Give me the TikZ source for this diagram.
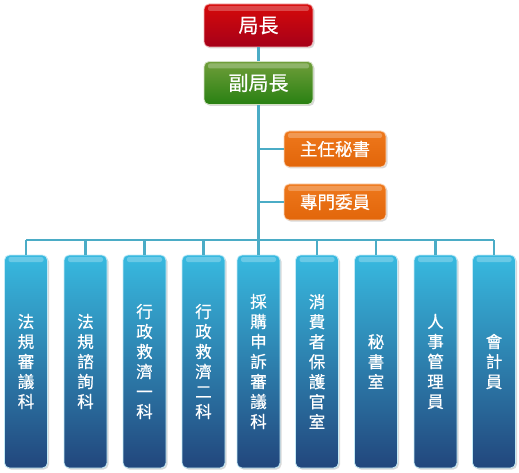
\documentclass[tikz,border=0pt]{standalone}
\usepackage{fontspec}
\newfontfamily\cjk[FakeBold=0.6]{Noto Sans CJK TC}
\usetikzlibrary{shadows}
\definecolor{redtop}{RGB}{214,10,10}
\definecolor{redbot}{RGB}{165,0,25}
\definecolor{grntop}{RGB}{112,158,58}
\definecolor{grnbot}{RGB}{40,128,18}
\definecolor{orgtop}{RGB}{238,120,28}
\definecolor{orgbot}{RGB}{226,102,10}
\definecolor{blutop}{RGB}{56,186,224}
\definecolor{blubot}{RGB}{34,70,124}
\definecolor{linec}{RGB}{75,172,198}
\begin{document}
\begin{tikzpicture}[x=1pt,y=-1pt,
  gloss/.style={rounded corners=5pt, draw=white!70!#1, line width=0.8pt,
    drop shadow={opacity=0.3, shadow xshift=1.5pt, shadow yshift=-1.5pt},
    text=white, inner sep=0pt,
    path picture={\fill[white,opacity=0.25,rounded corners=2pt]
      ([xshift=4pt,yshift=-2pt]path picture bounding box.north west)
      rectangle ([xshift=-4pt,yshift=-7pt]path picture bounding box.north east);}},
  topbox/.style={gloss=#1, minimum width=109pt, minimum height=43pt,
    font=\cjk\fontsize{20}{24}\selectfont},
  sidebox/.style={gloss=orgtop, top color=orgtop, bottom color=orgbot,
    minimum width=102pt, minimum height=36pt,
    font=\cjk\fontsize{17.5}{21}\selectfont},
  unitbox/.style={gloss=blutop, top color=blutop, bottom color=blubot,
    minimum width=43pt, minimum height=213pt, align=center,
    font=\cjk\fontsize{16.5}{20}\selectfont},
  conn/.style={draw=linec, line width=2.2pt}]
\useasboundingbox (0,0) rectangle (519,473);

\node[topbox=redtop, top color=redtop, bottom color=redbot] (chief) at (258.5,25.5) {局長};
\node[topbox=grntop, top color=grntop, bottom color=grnbot] (deputy) at (258.5,83) {副局長};
\node[sidebox] (sec) at (335,149) {主任秘書};
\node[sidebox] (spec) at (335,202) {專門委員};

\node[unitbox] (u1) at (26,361.5) {法\\規\\審\\議\\科};
\node[unitbox] (u2) at (85.5,361.5) {法\\規\\諮\\詢\\科};
\node[unitbox] (u3) at (144.5,361.5) {行\\政\\救\\濟\\一\\科};
\node[unitbox] (u4) at (203.5,361.5) {行\\政\\救\\濟\\二\\科};
\node[unitbox] (u5) at (258.5,361.5) {採\\購\\申\\訴\\審\\議\\科};
\node[unitbox] (u6) at (317,361.5) {消\\費\\者\\保\\護\\官\\室};
\node[unitbox] (u7) at (376,361.5) {秘\\書\\室};
\node[unitbox] (u8) at (435.5,361.5) {人\\事\\管\\理\\員};
\node[unitbox] (u9) at (494,361.5) {會\\計\\員};

\coordinate (bus) at (258.5,240);
\coordinate (busL) at (26,240);
\coordinate (busR) at (494,240);

\draw[conn] (chief.south) -- (deputy.north);
\draw[conn] (deputy.south) -- (bus);
\draw[conn] (busL) -- (busR);
\draw[conn] (sec.west) -- (sec.west -| bus);
\draw[conn] (spec.west) -- (spec.west -| bus);
\foreach \u in {u1,u2,u3,u4,u6,u7,u8,u9}
  \draw[conn] (\u.north |- bus) -- (\u.north);
\draw[conn] (bus) -- (u5.north);
\end{tikzpicture}
\end{document}
